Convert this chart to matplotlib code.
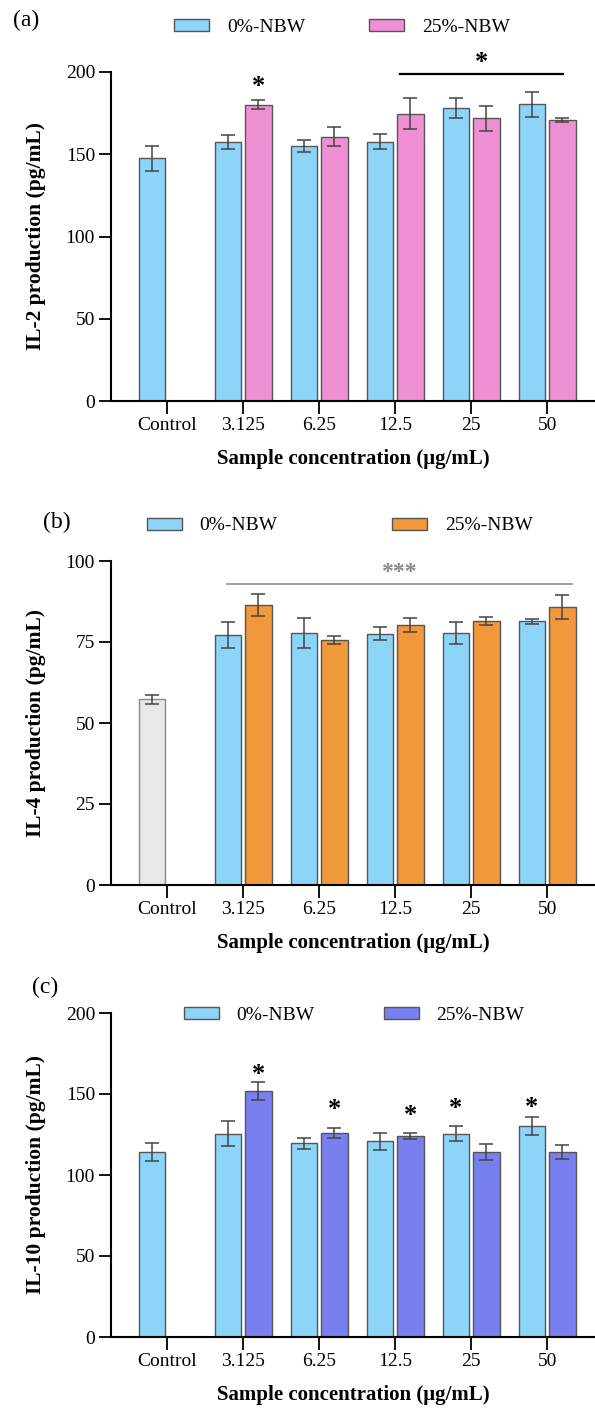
import numpy as np
import matplotlib
matplotlib.use("Agg")
import matplotlib.pyplot as plt
from matplotlib.patches import Patch

plt.rcParams['font.family'] = ['Liberation Serif', 'DejaVu Serif']

# data
categories = ['Control', '3.125', '6.25', '12.5', '25', '50']
series_names = ['0%-NBW', '25%-NBW']

il2_0 = [147.5, 157.3, 155.1, 157.7, 178.1, 180.4]
il2_0_err = [7.5, 4.3, 3.6, 4.7, 6.2, 7.5]
il2_25 = [180.2, 160.7, 174.7, 171.9, 170.6]
il2_25_err = [2.6, 5.9, 9.5, 7.6, 1.2]

il4_ctrl = [57.3]
il4_ctrl_err = [1.3]
il4_0 = [77.2, 77.9, 77.6, 77.8, 81.4]
il4_0_err = [4.0, 4.6, 2.1, 3.4, 0.7]
il4_25 = [86.5, 75.7, 80.2, 81.6, 85.8]
il4_25_err = [3.4, 1.3, 2.2, 1.2, 3.6]

il10_0 = [114.2, 125.6, 119.6, 120.8, 125.6, 130.1]
il10_0_err = [5.5, 7.9, 3.5, 5.4, 4.4, 5.6]
il10_25 = [152.0, 126.0, 124.1, 114.4, 114.4]
il10_25_err = [5.4, 3.2, 1.9, 5.0, 4.4]

# significance marks: (category index, series 0/1, height)
stars_a = [(1, 1, 193)]
stars_c = [(1, 1, 164), (2, 1, 142.3), (3, 1, 138.8), (4, 0, 142.9), (5, 0, 143.7)]

c_blue = '#8CD4F8'
c_pink = '#F090D4'
c_orange = '#F0983A'
c_purple = '#7880F0'
c_grey = '#E8E8E6'
edge = '#555555'
err_c = '#444444'

W, H = 595, 1410
fig = plt.figure(figsize=(W / 100, H / 100), dpi=100)

x = np.arange(len(categories))
off = 0.2
bw = 0.35


def px_axes(top, bottom, left=111, right=595):
    return fig.add_axes([left / W, 1 - bottom / H, (right - left) / W, (bottom - top) / H])


def style(ax, ymax, step, ylabel, top, bottom):
    ax.set_xlim(-0.737, 5.63)
    ax.set_ylim(0, ymax)
    ax.set_yticks(np.arange(0, ymax + 1, step))
    ax.set_xticks(x)
    ax.set_xticklabels(categories)
    for s in ['top', 'right']:
        ax.spines[s].set_visible(False)
    for s in ['left', 'bottom']:
        ax.spines[s].set_linewidth(1.5)
    ax.tick_params(axis='both', labelsize=14, width=1.3, length=9, pad=2.5)
    ax.set_ylabel(ylabel, fontsize=15.5, fontweight='bold')
    ax.yaxis.set_label_coords(-0.135, 0.5)
    ax.set_xlabel('Sample concentration (μg/mL)', fontsize=15, fontweight='bold')
    ax.xaxis.set_label_coords(0.5, -48 / (bottom - top))


def bars(ax, pos, vals, errs, color, ec=edge):
    ax.bar(pos, vals, width=bw, color=color, edgecolor=ec, linewidth=1.0, zorder=2)
    ax.errorbar(pos, vals, yerr=errs, fmt='none', ecolor=err_c, elinewidth=1.1,
                capsize=4.7, capthick=1.1, zorder=3)


def star(ax, xx, yy, txt='*', size=19, color='black'):
    ax.text(xx, yy, txt, ha='center', va='center', fontsize=size, fontweight='bold',
            color=color, clip_on=False)


def legend(ax, c2, cx, cy, colsp):
    h = [Patch(facecolor=c_blue, edgecolor=edge, linewidth=1.0),
         Patch(facecolor=c2, edgecolor=edge, linewidth=1.0)]
    fig.legend(h, series_names, ncol=2, loc='center', bbox_to_anchor=(cx / W, 1 - cy / H),
               frameon=False, fontsize=14, handlelength=1.8, handleheight=0.57,
               handletextpad=0.9, columnspacing=colsp, borderpad=0)


# (a) IL-2
ax = px_axes(72, 401)
bars(ax, x - off, il2_0, il2_0_err, c_blue)
bars(ax, x[1:] + off, il2_25, il2_25_err, c_pink)
style(ax, 200, 50, 'IL-2 production (pg/mL)', 72, 401)
for i, s, yv in stars_a:
    star(ax, x[i] + (off if s else -off), yv - 2)
ax.plot([3.07, 5.21], [198.6, 198.6], color='black', lw=1.6, clip_on=False)
star(ax, 4.14, 205.5)
legend(ax, c_pink, 342, 27, 3.3)
fig.text(26 / W, 1 - 20 / H, '(a)', fontsize=17, ha='center', va='center')

# (b) IL-4
ax = px_axes(561, 885)
bars(ax, [x[0] - off], il4_ctrl, il4_ctrl_err, c_grey, ec='#8a8a8a')
bars(ax, x[1:] - off, il4_0, il4_0_err, c_blue)
bars(ax, x[1:] + off, il4_25, il4_25_err, c_orange)
style(ax, 100, 25, 'IL-4 production (pg/mL)', 561, 885)
ax.plot([0.785, 5.33], [92.9, 92.9], color='#999999', lw=1.3)
star(ax, 3.05, 96.6, '***', size=17, color='#888888')
legend(ax, c_orange, 340, 526, 5.9)
fig.text(57 / W, 1 - 522 / H, '(b)', fontsize=17, ha='center', va='center')

# (c) IL-10
ax = px_axes(1013, 1337)
bars(ax, x - off, il10_0, il10_0_err, c_blue)
bars(ax, x[1:] + off, il10_25, il10_25_err, c_purple)
style(ax, 200, 50, 'IL-10 production (pg/mL)', 1013, 1337)
for i, s, yv in stars_c:
    star(ax, x[i] + (off if s else -off), yv - 2)
legend(ax, c_purple, 354, 1015, 3.55)
fig.text(45 / W, 1 - 987 / H, '(c)', fontsize=17, ha='center', va='center')

fig.savefig('out.png', dpi=100)
